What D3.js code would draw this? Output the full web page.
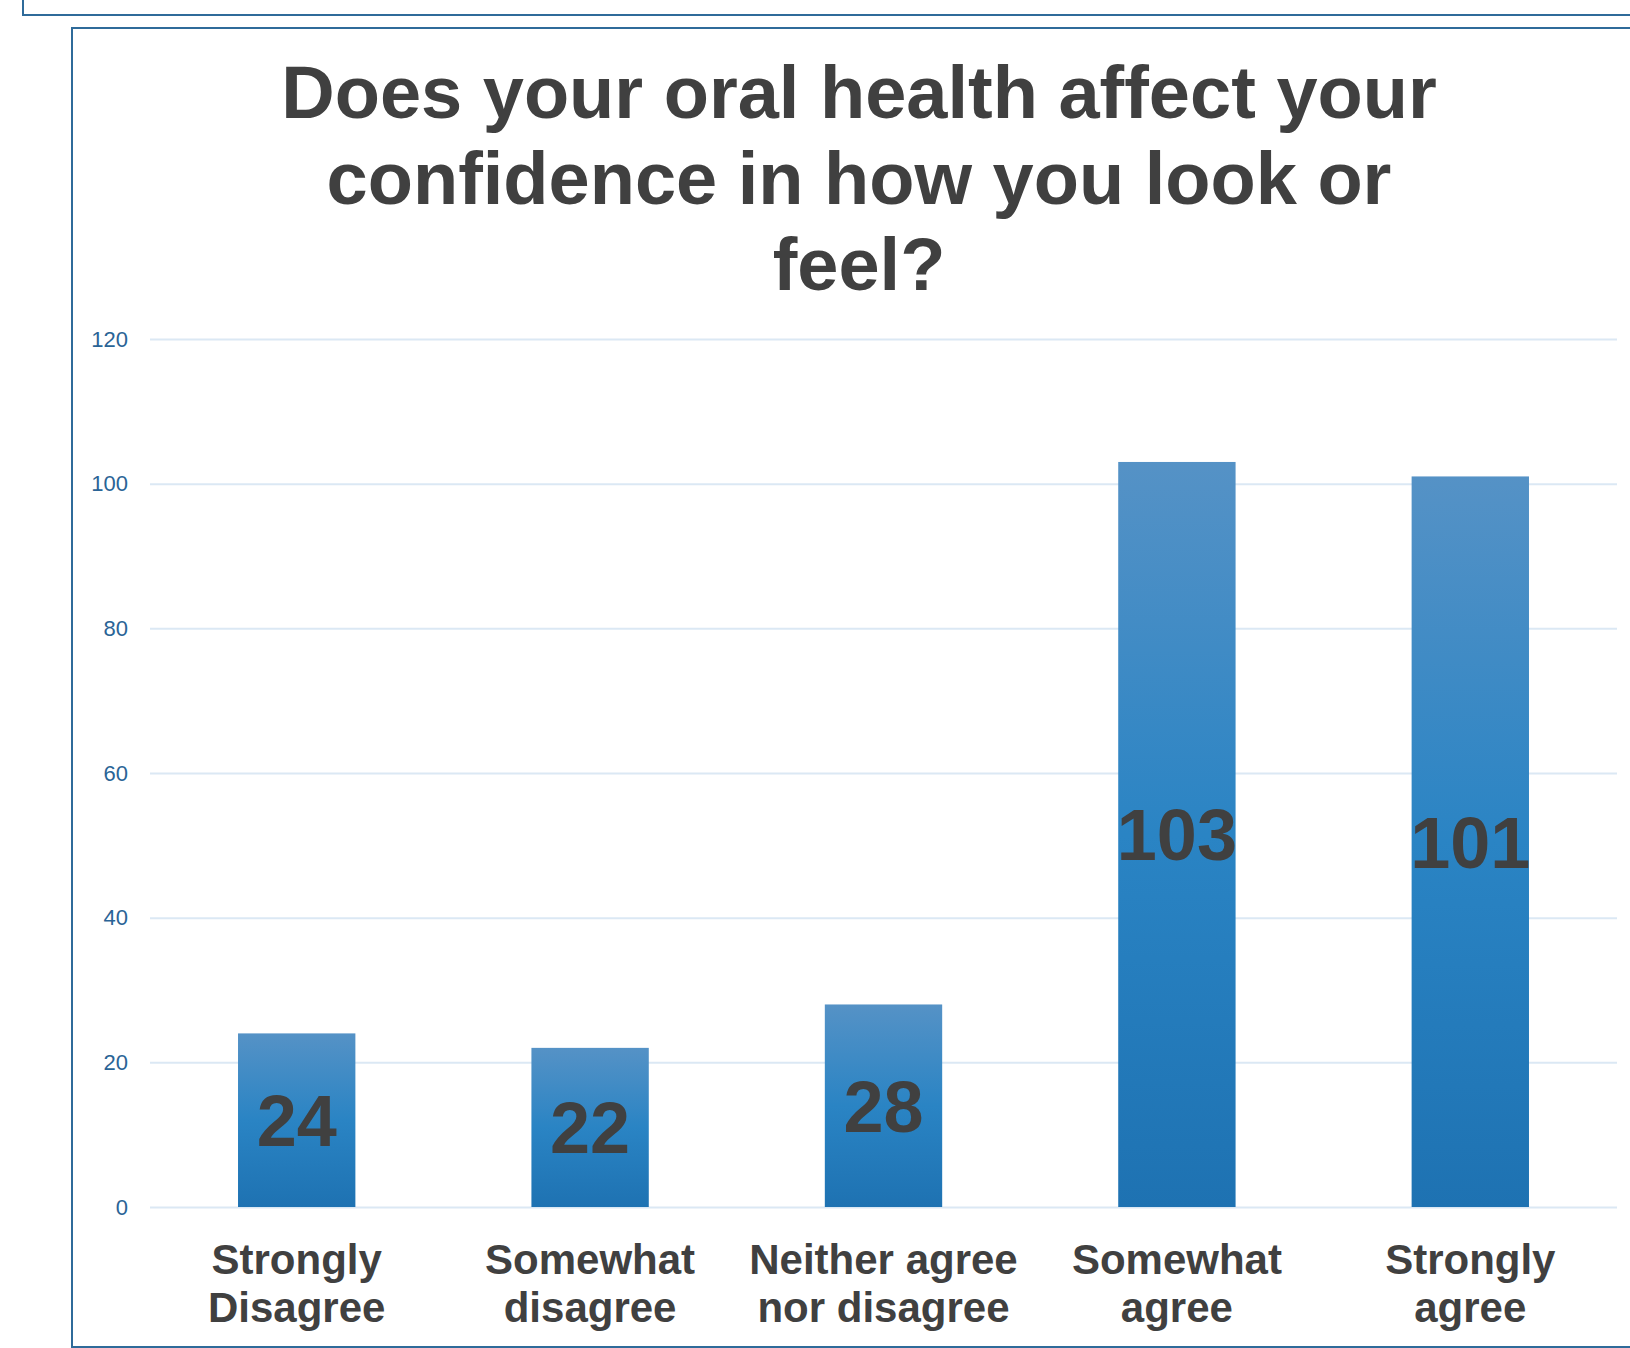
<!DOCTYPE html>
<html>
<head>
<meta charset="utf-8">
<script src="https://cdn.jsdelivr.net/npm/d3@7"></script>
<style>
  html, body { margin: 0; padding: 0; background: #ffffff; }
  svg { display: block; }
  text { font-family: "Liberation Sans", Arial, Helvetica, sans-serif; }
</style>
</head>
<body>
<svg id="chart" width="1630" height="1348"></svg>
<script>
// Survey responses
const categories = [
  "Strongly\nDisagree",
  "Somewhat\ndisagree",
  "Neither agree\nnor disagree",
  "Somewhat\nagree",
  "Strongly\nagree"
];
const responses = [24, 22, 28, 103, 101];
const yTicks = [0, 20, 40, 60, 80, 100, 120];
const titleLines = [
  "Does your oral health affect your",
  "confidence in how you look or",
  "feel?"
];

const svg = d3.select("#chart");
const W = 1630, H = 1348;
const plot = { left: 150, right: 1617, top: 339, bottom: 1207 };
const borderColor = "#2f6b9a";
const textColor = "#404040";

// Frames
svg.append("rect")
  .attr("x", 23).attr("y", -20)
  .attr("width", W + 40).attr("height", 35)
  .attr("fill", "none").attr("stroke", borderColor).attr("stroke-width", 2);
svg.append("rect")
  .attr("x", 72).attr("y", 28)
  .attr("width", W + 40).attr("height", 1319)
  .attr("fill", "#ffffff").attr("stroke", borderColor).attr("stroke-width", 2);

// Bar gradient (light at top, deeper blue at bottom)
const defs = svg.append("defs");
const grad = defs.append("linearGradient")
  .attr("id", "barFill")
  .attr("x1", 0).attr("y1", 0).attr("x2", 0).attr("y2", 1);
grad.append("stop").attr("offset", "0%").attr("stop-color", "#5592c6");
grad.append("stop").attr("offset", "50%").attr("stop-color", "#2a84c4");
grad.append("stop").attr("offset", "100%").attr("stop-color", "#1e72b2");

// Scales
const x = d3.scaleBand()
  .domain(categories)
  .range([plot.left, plot.right])
  .paddingInner(0.6)
  .paddingOuter(0.3);
const y = d3.scaleLinear()
  .domain([0, 120])
  .range([plot.bottom, plot.top]);

// Y axis with gridlines
const yAxis = svg.append("g")
  .attr("transform", `translate(${plot.left},0)`)
  .call(d3.axisLeft(y)
    .tickValues(yTicks)
    .tickSize(-(plot.right - plot.left))
    .tickPadding(22));
yAxis.select(".domain").remove();
yAxis.selectAll(".tick line")
  .attr("stroke", "#dbe8f4")
  .attr("stroke-width", 2);
yAxis.selectAll(".tick text")
  .attr("fill", "#2a6496")
  .style("font-size", "22px")
  .style("font-family", "\"Liberation Sans\", Arial, sans-serif");

// Bars
svg.append("g")
  .selectAll("rect")
  .data(responses)
  .join("rect")
  .attr("x", (d, i) => x(categories[i]))
  .attr("y", d => y(d))
  .attr("width", x.bandwidth())
  .attr("height", d => y(0) - y(d))
  .attr("fill", "url(#barFill)");

// Value labels centred in each bar
svg.append("g")
  .selectAll("text")
  .data(responses)
  .join("text")
  .attr("x", (d, i) => x(categories[i]) + x.bandwidth() / 2)
  .attr("y", d => (y(d) + y(0)) / 2)
  .attr("dy", "0.36em")
  .attr("text-anchor", "middle")
  .attr("fill", textColor)
  .style("font-size", "72px")
  .style("font-weight", "bold")
  .text(d => d);

// Category labels (two lines each)
const catG = svg.append("g");
categories.forEach(c => {
  const t = catG.append("text")
    .attr("text-anchor", "middle")
    .attr("fill", textColor)
    .style("font-size", "42px")
    .style("font-weight", "bold");
  c.split("\n").forEach((line, j) => {
    t.append("tspan")
      .attr("x", x(c) + x.bandwidth() / 2)
      .attr("y", 1274 + j * 48)
      .text(line);
  });
});

// Title
const title = svg.append("text")
  .attr("text-anchor", "middle")
  .attr("fill", textColor)
  .style("font-size", "74px")
  .style("font-weight", "bold");
titleLines.forEach((line, i) => {
  title.append("tspan")
    .attr("x", 859)
    .attr("y", 118 + i * 86)
    .text(line);
});
</script>
</body>
</html>
